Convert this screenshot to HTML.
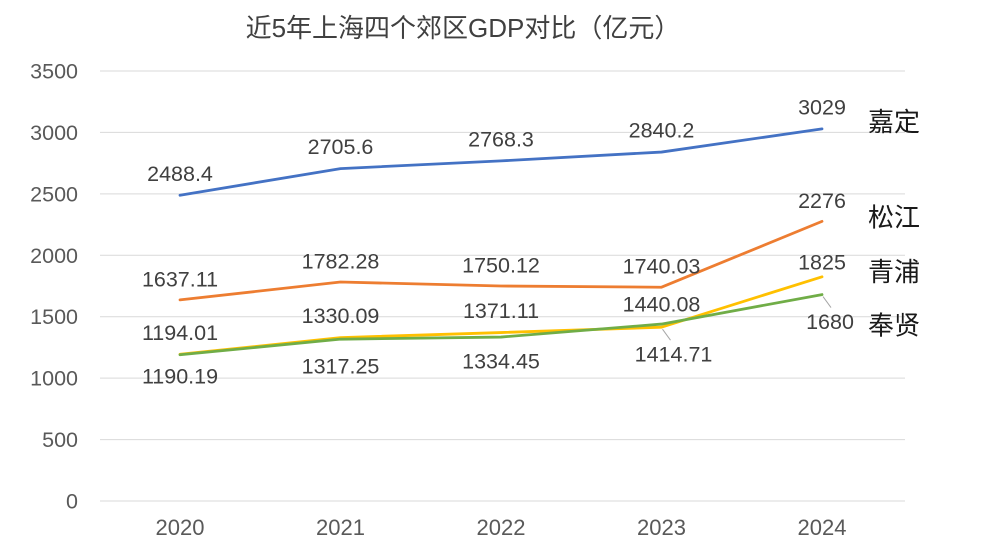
<!DOCTYPE html>
<html><head><meta charset="utf-8">
<style>
html,body{margin:0;padding:0;background:#fff;}
svg{display:block;font-family:"Liberation Sans","Noto Sans CJK SC",sans-serif;}
</style></head>
<body>
<svg id="chart" width="1000" height="545" viewBox="0 0 1000 545">
<text x="463" y="37" text-anchor="middle" font-size="26" fill="#404040">近5年上海四个郊区GDP对比（亿元）</text>
<g id="grid"></g>
<g id="yaxis"></g>
<g id="xaxis"></g>
<g id="series"></g>
</svg>
<script>
const categories = ["2020","2021","2022","2023","2024"];
const yTicks = [0,500,1000,1500,2000,2500,3000,3500];
const seriesNames = ["嘉定","松江","青浦","奉贤"];
const jiading = [2488.4,2705.6,2768.3,2840.2,3029];
const songjiang = [1637.11,1782.28,1750.12,1740.03,2276];
const qingpu = [1194.01,1330.09,1371.11,1414.71,1825];
const fengxian = [1190.19,1317.25,1334.45,1440.08,1680];
const labelText = {
  "嘉定":["2488.4","2705.6","2768.3","2840.2","3029"],
  "松江":["1637.11","1782.28","1750.12","1740.03","2276"],
  "青浦":["1194.01","1330.09","1371.11","1414.71","1825"],
  "奉贤":["1190.19","1317.25","1334.45","1440.08","1680"]
};

const NS="http://www.w3.org/2000/svg";
const x0=180, xStep=160.5, yBase=501, yMax=3500, yPix=430;
function xs(i){return x0+i*xStep;}
function ys(v){return yBase - v/yMax*yPix;}
function mk(tag,attrs,parent){const e=document.createElementNS(NS,tag);for(const k in attrs)e.setAttribute(k,attrs[k]);parent.appendChild(e);return e;}

const grid=document.getElementById('grid'), ya=document.getElementById('yaxis'), xa=document.getElementById('xaxis'), sg=document.getElementById('series');
yTicks.forEach(t=>{
  const l=mk('line',{x1:100,x2:905,y1:ys(t),y2:ys(t),stroke:'#d9d9d9','stroke-width':1},grid);
  
  
  const tx=mk('text',{x:78,y:ys(t)+7.5,'text-anchor':'end','font-size':21.5,fill:'#595959'},ya);
  tx.textContent=t;
  
  
});
categories.forEach((c,i)=>{
  const tx=mk('text',{x:xs(i),y:535,'text-anchor':'middle','font-size':22,fill:'#595959'},xa);
  tx.textContent=c;
  
  
});

const seriesData=[jiading,songjiang,qingpu,fengxian];
const colors=['#4472c4','#ed7d31','#ffc000','#70ad47'];
const offs=[
  [-22,-22,-22,-22,-22],
  [-21,-21,-21,-21,-21],
  [-22,-22,-22,27,-15],
  [21,27,24,-20,27]
];
const xOffs=[[0,0,0,0,0],[0,0,0,0,0],[0,0,0,12,0],[0,0,0,0,8]];
const nameY=[-7,-4,-5,31];
seriesData.forEach((d,s)=>{
  const pts=d.map((v,i)=>xs(i)+','+ys(v)).join(' ');
  const pl=mk('polyline',{points:pts,fill:'none',stroke:colors[s],'stroke-width':2.8,'stroke-linejoin':'round','stroke-linecap':'round'},sg);
  
  
  d.forEach((v,i)=>{
    const lx=xs(i)+xOffs[s][i], ly=ys(v)+offs[s][i];
    if((s===2&&i===3)||(s===3&&i===4)){
      const ll=mk('line',{x1:xs(i)+1,y1:ys(v)+2,x2:xs(i)+9,y2:ys(v)+13,stroke:'#a6a6a6','stroke-width':1},sg);
      
      
    }
    const t=mk('text',{x:lx,y:ly+7.5,'text-anchor':'middle','font-size':21.5,fill:'#404040'},sg);
    t.textContent=labelText[seriesNames[s]][i];
    
    
  });
  const n=mk('text',{x:868,y:ys(d[4])+nameY[s]+9,'font-size':26,fill:'#1a1a1a'},sg);
  n.textContent=seriesNames[s];
  
  
});
</script>
</body></html>
